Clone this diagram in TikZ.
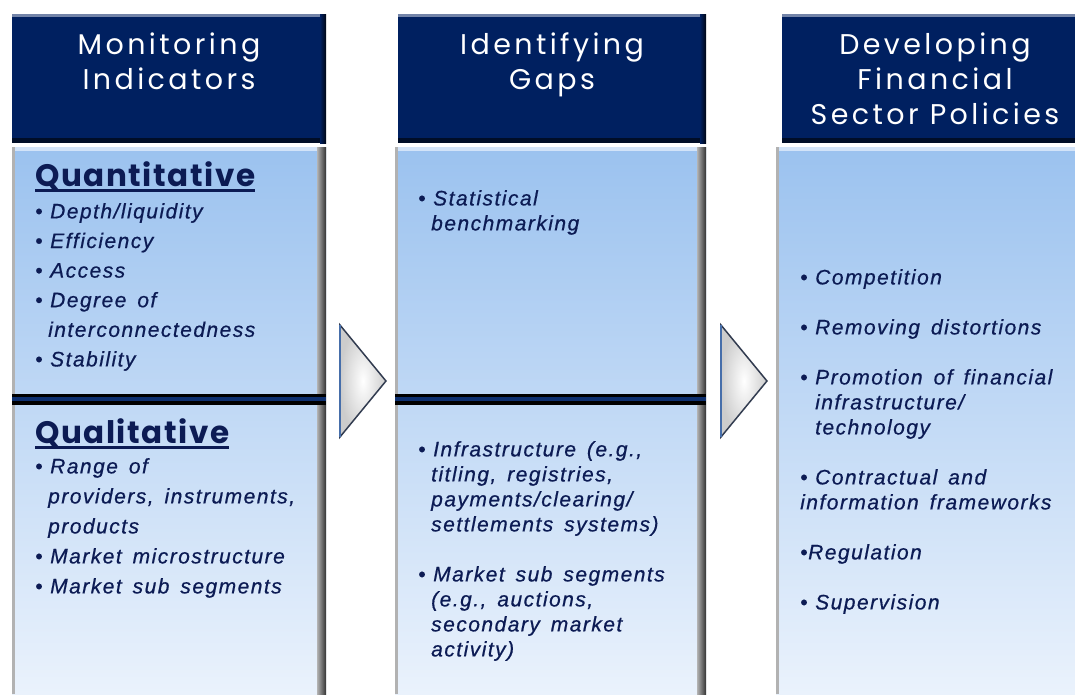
\documentclass[tikz,border=0pt]{standalone}
\usepackage{fontspec}
\setmainfont{Liberation Sans}
\newfontfamily\headfont{Poppins}[LetterSpace=12]
\newfontfamily\subfont{Poppins}[LetterSpace=5]
\newfontfamily\itemfont{Liberation Sans}[LetterSpace=7, WordSpace=1.5, FakeBold=0.6]
\usetikzlibrary{shapes.geometric,positioning}

\definecolor{navy}{RGB}{0,32,96}
\definecolor{inktext}{RGB}{12,27,84}
\definecolor{bodytop}{RGB}{155,194,239}
\definecolor{bodybot}{RGB}{234,242,252}
\definecolor{rimblue}{RGB}{70,110,170}
\definecolor{rimdark}{RGB}{50,60,80}

\newcommand{\itm}{\makebox[15pt][l]{•}}
\newcommand{\itmcont}{\hspace*{13pt}}

\tikzset{
  headbox/.style={anchor=north west, fill=navy, inner sep=0pt, outer sep=0pt, minimum height=129pt},
  bodybox/.style={anchor=north west, top color=bodytop, bottom color=bodybot, inner sep=0pt, outer sep=0pt, minimum height=547pt},
  headtext/.style={text=white, font=\headfont\fontsize{28.5}{35}\selectfont, align=center, inner sep=0pt},
  subhead/.style={text=inktext, font=\subfont\bfseries\fontsize{31}{31}\selectfont, anchor=base west, inner sep=0pt},
  uline/.style={inktext, line width=3pt},
  listtext/.style={text=inktext, font=\itemfont\itshape\fontsize{21}{#1}\selectfont, align=left, anchor=north west, inner sep=0pt},
  listtext/.default=25pt,
  barouter/.style={line width=11pt, black},
  barinner/.style={line width=4pt, navy!80!rimblue},
  arrowtri/.style={isosceles triangle, isosceles triangle stretches, minimum width=112pt, minimum height=46pt,
    inner sep=0pt, outer sep=0pt, shading=radial, inner color=white, outer color=gray!40, draw=rimdark, line width=1.5pt}
}

\begin{document}
\begin{tikzpicture}[x=1pt,y=-1pt]
\useasboundingbox (0,0) rectangle (1075,694);
% header boxes
\node[headbox, minimum width=314pt] (head1) at (12,14) {};
\node[headbox, minimum width=308pt] (head2) at (398,14) {};
\node[headbox, minimum width=293pt] (head3) at (782,14) {};
\foreach \h in {head1,head2,head3} {
  \fill[navy!55!white] (\h.north west) rectangle ([yshift=-3pt]\h.north east);
  \fill[black!60!navy] ([yshift=5pt]\h.south west) rectangle (\h.south east);
}
\foreach \h in {head1,head2} {
  \shade[left color=navy, right color=black!80!navy] ([xshift=-6pt]\h.north east) rectangle (\h.south east);
}
% body boxes
\node[bodybox, minimum width=314pt] (body1) at (12,147) {};
\node[bodybox, minimum width=311pt] (body2) at (395,147) {};
\node[bodybox, minimum width=299pt] (body3) at (776,147) {};
\foreach \b in {body1,body2,body3} {
  \fill[white!55!bodytop] (\b.north west) rectangle ([yshift=-4pt]\b.north east);
  \fill[gray!60] (\b.north west) rectangle ([xshift=3pt]\b.south west);
}
\foreach \b in {body1,body2} {
  \shade[left color=gray!60, right color=black!80] ([xshift=-9pt]\b.north east) rectangle (\b.south east);
}
% dividers
\coordinate (bar1l) at (12,399);
\coordinate (bar1r) at (326,399);
\coordinate (bar2l) at (395,399);
\coordinate (bar2r) at (706,399);
\draw[barouter] (bar1l) -- (bar1r);
\draw[barinner] (bar1l) -- (bar1r);
\draw[barouter] (bar2l) -- (bar2r);
\draw[barinner] (bar2l) -- (bar2r);
% arrows between the columns
\node[arrowtri] (arr1) at (360,381) {};
\node[arrowtri] (arr2) at (741,381) {};
\draw[rimblue, line width=2pt] (arr1.left corner) -- (arr1.right corner);
\draw[rimblue, line width=2pt] (arr2.left corner) -- (arr2.right corner);
% header texts
\node[headtext, anchor=north] (title1) at (169,33) {Monitoring\\Indicators};
\node[headtext, anchor=north] (title2) at (552,33) {Identifying\\Gaps};
\node[headtext, anchor=north] (title3) at (935,33) {Developing\\Financial\\Sector Policies};
% column 1
\node[subhead] (quant) at (35,186) {Quantitative};
\draw[uline] ([yshift=-4pt]quant.base west) -- ([yshift=-4pt]quant.base east);
\node[listtext=29.6pt] (quantlist) at (35,203) {\itm Depth/liquidity\\
  \itm Efficiency\\
  \itm Access\\
  \itm Degree of\\
  \itmcont interconnectedness\\
  \itm Stability};
\node[subhead] (qual) at (35,443) {Qualitative};
\draw[uline] ([yshift=-4pt]qual.base west) -- ([yshift=-4pt]qual.base east);
\node[listtext=30pt] (quallist) at (35,458) {\itm Range of\\
  \itmcont providers, instruments,\\
  \itmcont products\\
  \itm Market microstructure\\
  \itm Market sub segments};
% column 2
\node[listtext] (gaplist1) at (418,190) {\itm Statistical\\
  \itmcont benchmarking};
\node[listtext] (gaplist2) at (418,441) {\itm Infrastructure (e.g.,\\
  \itmcont titling, registries,\\
  \itmcont payments/clearing/\\
  \itmcont settlements systems)\\[25pt]
  \itm Market sub segments\\
  \itmcont (e.g., auctions,\\
  \itmcont secondary market\\
  \itmcont activity)};
% column 3
\node[listtext] (pollist) at (800,269) {\itm Competition\\[25pt]
  \itm Removing distortions\\[25pt]
  \itm Promotion of financial\\
  \hspace*{15pt}infrastructure/\\
  \hspace*{15pt}technology\\[25pt]
  \itm Contractual and\\
  information frameworks\\[25pt]
  \makebox[8pt][l]{•}Regulation\\[25pt]
  \itm Supervision};
\end{tikzpicture}
\end{document}
